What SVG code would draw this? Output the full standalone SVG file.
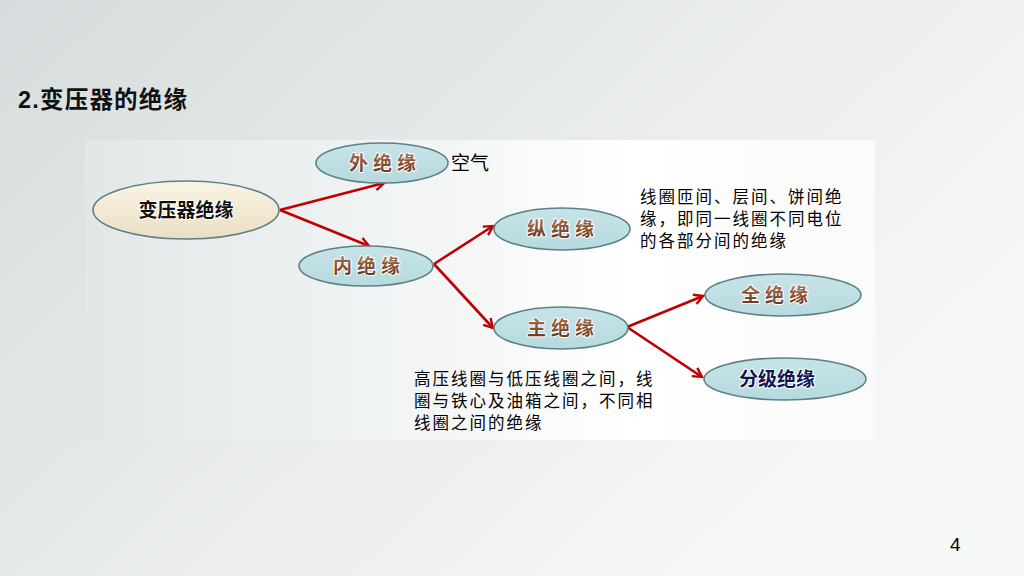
<svg xmlns="http://www.w3.org/2000/svg" width="1024" height="576" viewBox="0 0 1024 576">
<defs>
<linearGradient id="bg" x1="0" y1="0" x2="1" y2="0.6">
<stop offset="0" stop-color="#d6dcdd"/>
<stop offset="0.6" stop-color="#eceeee"/>
<stop offset="1" stop-color="#f7f8f8"/>
</linearGradient>
<linearGradient id="img" x1="0" y1="0" x2="1" y2="0">
<stop offset="0" stop-color="#e2e7e8"/>
<stop offset="0.45" stop-color="#f4f6f6"/>
<stop offset="0.7" stop-color="#ffffff"/>
<stop offset="1" stop-color="#fafafa"/>
</linearGradient>
<linearGradient id="cream" x1="0" y1="0" x2="0" y2="1">
<stop offset="0" stop-color="#faf4e4"/>
<stop offset="1" stop-color="#eadfc3"/>
</linearGradient>
<linearGradient id="blue" x1="0" y1="0" x2="0" y2="1">
<stop offset="0" stop-color="#c6e4e7"/>
<stop offset="1" stop-color="#b6dadf"/>
</linearGradient>
<linearGradient id="brown" x1="0" y1="0" x2="0" y2="1">
<stop offset="0" stop-color="#b8805e"/>
<stop offset="1" stop-color="#5e2e16"/>
</linearGradient>
<marker id="arr" viewBox="0 0 12 12" refX="10" refY="6" markerWidth="12" markerHeight="12" markerUnits="userSpaceOnUse" orient="auto">
<path d="M1,1 L10,6 L1,11" fill="none" stroke="#c00000" stroke-width="2.4"/>
</marker>
<style>
.node{stroke:#5f7f86;stroke-width:1.6}
.lbl{font-family:"Noto Sans CJK SC",sans-serif;font-weight:bold;font-size:19px;text-anchor:middle;stroke:#ffffff;stroke-width:2;paint-order:stroke;stroke-linejoin:round}
.br{fill:url(#brown);letter-spacing:5px}
.conn{stroke:#c00000;stroke-width:2.6;fill:none;marker-end:url(#arr)}
.note{font-family:"Noto Sans CJK SC",sans-serif;font-size:16.5px;fill:#000;letter-spacing:2px}
</style>
</defs>
<rect width="1024" height="576" fill="url(#bg)"/>
<rect x="85" y="140" width="790" height="300" fill="url(#img)"/>
<text x="18" y="108" font-family="Liberation Sans, Noto Sans CJK SC, sans-serif" font-weight="bold" font-size="23.5" letter-spacing="1.2" fill="#111">2.变压器的绝缘</text>
<text x="950" y="551" font-family="Liberation Sans, sans-serif" font-size="19" fill="#000">4</text>

<g id="connectors">
<line class="conn" x1="280" y1="210" x2="384" y2="183"/>
<line class="conn" x1="280" y1="210" x2="369" y2="246"/>
<line class="conn" x1="434" y1="264" x2="493" y2="226"/>
<line class="conn" x1="434" y1="264" x2="493" y2="328"/>
<line class="conn" x1="627" y1="327" x2="703" y2="296"/>
<line class="conn" x1="627" y1="327" x2="702" y2="377"/>
</g>

<g id="n-root">
<ellipse class="node" cx="186" cy="210" rx="93" ry="29" fill="url(#cream)"/>
<text class="lbl" x="186" y="217" fill="#111">变压器绝缘</text>
</g>
<g id="n-outer">
<ellipse class="node" cx="382" cy="163" rx="66" ry="20" fill="url(#blue)"/>
<text class="lbl br" x="385" y="170">外绝缘</text>
</g>
<g id="n-inner">
<ellipse class="node" cx="366" cy="266" rx="67" ry="20" fill="url(#blue)"/>
<text class="lbl br" x="369" y="273">内绝缘</text>
</g>
<g id="n-long">
<ellipse class="node" cx="562" cy="229" rx="68" ry="21" fill="url(#blue)"/>
<text class="lbl br" x="563" y="236">纵绝缘</text>
</g>
<g id="n-main">
<ellipse class="node" cx="561" cy="328" rx="67" ry="21" fill="url(#blue)"/>
<text class="lbl br" x="563" y="335">主绝缘</text>
</g>
<g id="n-full">
<ellipse class="node" cx="783" cy="295" rx="78" ry="21" fill="url(#blue)"/>
<text class="lbl br" x="777" y="302">全绝缘</text>
</g>
<g id="n-graded">
<ellipse class="node" cx="785" cy="379" rx="81" ry="21" fill="url(#blue)"/>
<text class="lbl" x="777" y="386" fill="#141450">分级绝缘</text>
</g>

<text x="451" y="170" font-family="Noto Sans CJK SC, sans-serif" font-size="19" fill="#000">空气</text>
<text class="note" x="640" y="203">线圈匝间、层间、饼间绝</text>
<text class="note" x="640" y="225">缘，即同一线圈不同电位</text>
<text class="note" x="640" y="247">的各部分间的绝缘</text>
<text class="note" x="414" y="385">高压线圈与低压线圈之间，线</text>
<text class="note" x="414" y="407">圈与铁心及油箱之间，不同相</text>
<text class="note" x="414" y="429">线圈之间的绝缘</text>
</svg>
